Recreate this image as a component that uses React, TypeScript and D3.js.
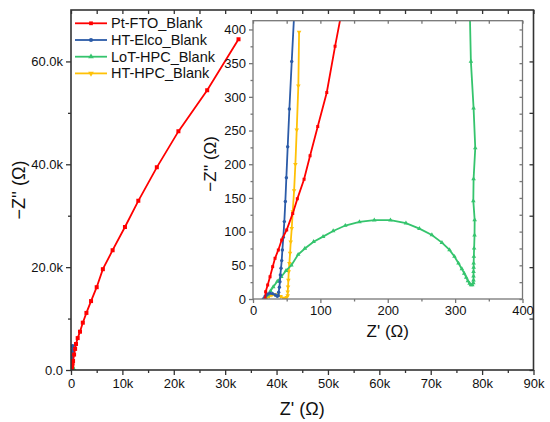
import * as d3 from 'd3';
import { useRef, useEffect } from 'react';

type Pt = [number, number];

// Z' (Ω), -Z'' (Ω)
const ptFto: Pt[] = [
  [18, 0], [18.8, 10.8], [21.8, 20.8], [25.3, 33], [29.2, 48], [32.7, 60.4], [37.6, 72.8], [42.6, 87.7],
  [50, 102.5], [59, 127], [65.8, 148.6], [75.8, 177.8], [84.7, 212.5], [96.1, 256], [109.5, 306.5],
  [121.8, 375], [140, 470], [175, 620], [230, 880], [300, 1250], [400, 1750], [600, 3000], [800, 4100],
  [970, 5060], [1300, 6200], [1750, 7450], [2300, 9200], [3000, 11100], [3900, 13400], [5000, 16100],
  [6200, 19600], [8100, 23300], [10500, 27800], [13100, 32900], [16700, 39400], [20900, 46400],
  [26500, 54400], [32600, 64300],
];
const htElco: Pt[] = [
  [15.3, 0], [18, 4], [21, 7], [25, 8.5], [29, 8], [33, 6], [36, 4], [37.5, 5], [38.1, 10], [39.1, 17.4],
  [40, 25.7], [40.6, 35.7], [41.6, 45.6], [42.6, 57], [43.6, 72.8], [45, 91.7], [46.5, 114.9], [48, 144.6],
  [49.5, 180], [51.5, 226], [54, 282], [57.5, 352.6], [62, 440], [75, 650], [100, 1050], [140, 1700],
  [190, 2600], [250, 3700], [300, 4600],
];
const lotHpc: Pt[] = [
  [18, 0], [22, 6], [26, 12], [30, 18], [36, 26], [42, 33], [49, 42], [57, 50], [67, 66], [77, 75], [90, 85],
  [104, 92.6], [119, 101], [137, 109], [158, 114.4], [180, 117], [204, 117], [227, 112.5], [247, 104.5],
  [265.5, 95], [280.4, 83.7], [291.7, 72.8], [299, 63], [305, 53], [310, 44.6], [313.5, 38], [316.5, 32],
  [319, 26.7], [321.5, 23], [323.5, 20.8], [325.5, 21], [327, 24], [327.3, 28], [327.3, 34], [327.3, 40.6],
  [327.5, 47], [327.5, 53], [327.8, 63], [328.2, 75.3], [328.8, 94.6], [329, 117.4], [327, 145.6],
  [327.4, 178.3], [329.9, 224], [327.4, 283.3], [323.4, 352.6], [321.5, 440],
];
const htHpc: Pt[] = [
  [20, 1], [24, 4], [28, 6], [32.7, 6.5], [37, 6], [41, 4], [45, 1.5], [48, 1], [50, 2.5], [51.5, 5],
  [51.5, 10.8], [52, 18], [52.5, 28], [53, 40.6], [54, 53], [55, 68], [56, 85], [57.5, 105], [59, 129.8],
  [61, 161], [62.9, 200], [64.9, 251], [67.3, 316.5], [68.4, 396],
];

const seriesNames = ['Pt-FTO_Blank', 'HT-Elco_Blank', 'LoT-HPC_Blank', 'HT-HPC_Blank'];
const seriesColors = ['#ff0000', '#2b5ba8', '#35c46d', '#ffc107'];
const seriesSymbols = [d3.symbolSquare, d3.symbolCircle, d3.symbolTriangle, d3.symbolTriangle];
const seriesData = [ptFto, htElco, lotHpc, htHpc];

const mainXTicks = [0, 10000, 20000, 30000, 40000, 50000, 60000, 70000, 80000, 90000];
const mainXMinor = [5000, 15000, 25000, 35000, 45000, 55000, 65000, 75000, 85000];
const mainYTicks = [0, 20000, 40000, 60000];
const mainYMinor = [10000, 30000, 50000];
const insetXTicks = [0, 100, 200, 300, 400];
const insetXMinor = [50, 150, 250, 350];
const insetYTicks = [0, 50, 100, 150, 200, 250, 300, 350, 400];
const insetYMinor = [25, 75, 125, 175, 225, 275, 325, 375];

const FONT = 'Arial, "Liberation Sans", sans-serif';

const mx = d3.scaleLinear([0, 90000], [71, 533.5]);
const my = d3.scaleLinear([0, 70000], [370, 10]);
const ix = d3.scaleLinear([0, 400], [253, 522.5]);
const iy = d3.scaleLinear([0, 413], [299, 20.7]);

const fmtMainX = (d: number) => (d === 0 ? '0' : `${d / 1000}k`);
const fmtMainY = (d: number) => (d === 0 ? '0.0' : `${(d / 1000).toFixed(1)}k`);

type AxisProps = {
  axis: d3.Axis<d3.NumberValue>;
  transform: string;
  color: string;
  fontSize?: number;
};

const Axis = ({ axis, transform, color, fontSize = 13 }: AxisProps) => {
  const ref = useRef<SVGGElement | null>(null);
  useEffect(() => {
    const g = d3.select(ref.current);
    g.call(axis as any);
    g.select('.domain').remove();
    g.selectAll('line').attr('stroke', color).attr('stroke-width', 1.3);
    g.selectAll('text').attr('fill', '#111').style('font-family', FONT).style('font-size', `${fontSize}px`);
  }, [axis, color, fontSize]);
  return <g ref={ref} transform={transform} />;
};

const Series = ({ xs, ys, idx, size }: { xs: d3.ScaleLinear<number, number>; ys: d3.ScaleLinear<number, number>; idx: number; size: number }) => {
  const data = seriesData[idx];
  const line = d3.line<Pt>((d) => xs(d[0]), (d) => ys(d[1]));
  const sym = d3.symbol(seriesSymbols[idx], size);
  const flip = idx === 3 ? ' rotate(180)' : '';
  return (
    <g>
      <path d={line(data) ?? ''} fill="none" stroke={seriesColors[idx]} strokeWidth={1.8} />
      {data.map((d, i) => (
        <path key={i} d={sym() ?? ''} fill={seriesColors[idx]} transform={`translate(${xs(d[0])},${ys(d[1])})${flip}`} />
      ))}
    </g>
  );
};

export default function App() {
  const [mx0, mx1] = mx.range();
  const [my0, my1] = my.range();
  const [ix0, ix1] = ix.range();
  const [iy0, iy1] = iy.range();
  const mainAxis = '#333';
  const insetAxis = '#777';

  return (
    <svg width={550} height={422} style={{ position: 'absolute', left: 0, top: 0, background: '#fff' }} fontFamily={FONT}>
      <defs>
        <clipPath id="clipMain">
          <rect x={mx0} y={my1} width={mx1 - mx0} height={my0 - my1} />
        </clipPath>
        <clipPath id="clipInset">
          <rect x={ix0} y={iy1} width={ix1 - ix0} height={iy0 - iy1} />
        </clipPath>
      </defs>

      {/* main plot */}
      <g clipPath="url(#clipMain)">
        {[3, 2, 1, 0].map((i) => (
          <Series key={i} xs={mx} ys={my} idx={i} size={16} />
        ))}
      </g>
      <rect x={mx0} y={my1} width={mx1 - mx0} height={my0 - my1} fill="none" stroke={mainAxis} strokeWidth={1.6} />
      <Axis axis={d3.axisBottom(mx).tickValues(mainXTicks).tickFormat((d) => fmtMainX(+d)).tickSize(5).tickPadding(4)} transform={`translate(0,${my0})`} color={mainAxis} />
      <Axis axis={d3.axisBottom(mx).tickValues(mainXMinor).tickFormat(() => '').tickSize(3)} transform={`translate(0,${my0})`} color={mainAxis} />
      <Axis axis={d3.axisBottom(mx).tickValues(mainXTicks.concat(mainXMinor)).tickFormat(() => '').tickSize(4)} transform={`translate(0,${my1})`} color={mainAxis} />
      <Axis axis={d3.axisLeft(my).tickValues(mainYTicks).tickFormat((d) => fmtMainY(+d)).tickSize(5).tickPadding(3)} transform={`translate(${mx0},0)`} color={mainAxis} />
      <Axis axis={d3.axisLeft(my).tickValues(mainYMinor).tickFormat(() => '').tickSize(3)} transform={`translate(${mx0},0)`} color={mainAxis} />
      <Axis axis={d3.axisLeft(my).tickValues(mainYTicks.concat(mainYMinor)).tickFormat(() => '').tickSize(4)} transform={`translate(${mx1},0)`} color={mainAxis} />

      <text x={(mx0 + mx1) / 2} y={415} textAnchor="middle" fontSize={18} fill="#111">Z' (Ω)</text>
      <text transform={`translate(25,${(my0 + my1) / 2}) rotate(-90)`} textAnchor="middle" fontSize={18} fill="#111">−Z'' (Ω)</text>

      {/* legend */}
      <g>
        {seriesNames.map((name, i) => {
          const yy = 23.3 + i * 16.7;
          const sym = d3.symbol(seriesSymbols[i], 14)();
          return (
            <g key={name}>
              <line x1={75} x2={107} y1={yy} y2={yy} stroke={seriesColors[i]} strokeWidth={1.8} />
              <path d={sym ?? ''} fill={seriesColors[i]} transform={`translate(91,${yy})${i === 3 ? ' rotate(180)' : ''}`} />
              <text x={111} y={yy + 5} fontSize={14.5} fill="#111">{name}</text>
            </g>
          );
        })}
      </g>

      {/* inset */}
      <rect x={ix0} y={iy1} width={ix1 - ix0} height={iy0 - iy1} fill="#fff" />
      <g clipPath="url(#clipInset)">
        {[3, 2, 1, 0].map((i) => (
          <Series key={i} xs={ix} ys={iy} idx={i} size={9} />
        ))}
      </g>
      <rect x={ix0} y={iy1} width={ix1 - ix0} height={iy0 - iy1} fill="none" stroke={insetAxis} strokeWidth={1.3} />
      <Axis axis={d3.axisBottom(ix).tickValues(insetXTicks).tickSize(4).tickPadding(3)} transform={`translate(0,${iy0})`} color={insetAxis} />
      <Axis axis={d3.axisBottom(ix).tickValues(insetXMinor).tickFormat(() => '').tickSize(2.5)} transform={`translate(0,${iy0})`} color={insetAxis} />
      <Axis axis={d3.axisBottom(ix).tickValues(insetXTicks.concat(insetXMinor)).tickFormat(() => '').tickSize(3)} transform={`translate(0,${iy1})`} color={insetAxis} />
      <Axis axis={d3.axisLeft(iy).tickValues(insetYTicks).tickSize(4).tickPadding(3)} transform={`translate(${ix0},0)`} color={insetAxis} />
      <Axis axis={d3.axisLeft(iy).tickValues(insetYMinor).tickFormat(() => '').tickSize(2.5)} transform={`translate(${ix0},0)`} color={insetAxis} />
      <Axis axis={d3.axisLeft(iy).tickValues(insetYTicks.concat(insetYMinor)).tickFormat(() => '').tickSize(3)} transform={`translate(${ix1},0)`} color={insetAxis} />

      <text x={(ix0 + ix1) / 2} y={337} textAnchor="middle" fontSize={17} fill="#111">Z' (Ω)</text>
      <text transform={`translate(216,${(iy0 + iy1) / 2 + 4}) rotate(-90)`} textAnchor="middle" fontSize={17} fill="#111">−Z'' (Ω)</text>
    </svg>
  );
}
